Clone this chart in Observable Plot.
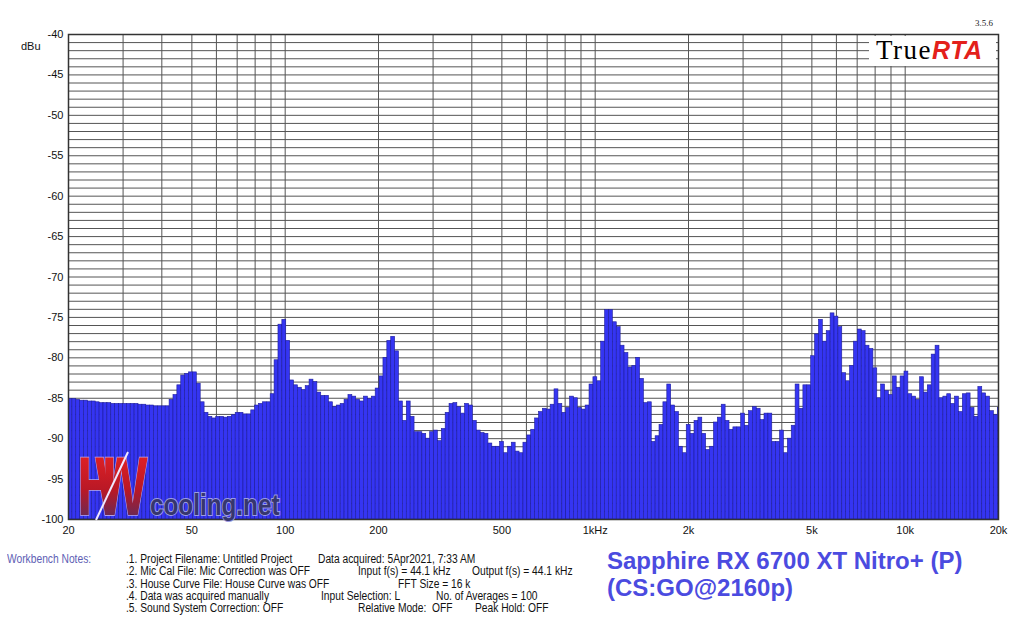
<!DOCTYPE html>
<html><head><meta charset="utf-8">
<script src="https://cdn.jsdelivr.net/npm/d3@7"></script>
<script src="https://cdn.jsdelivr.net/npm/@observablehq/plot@0.6"></script>
<style>
body{margin:0;background:#fff;}
#wrap{position:relative;width:1024px;height:624px;overflow:hidden;font-family:"Liberation Sans",Arial,sans-serif;background:#fff;}
#chart{position:absolute;left:0;top:0;}
.abs{position:absolute;white-space:nowrap;}
.note{position:absolute;white-space:nowrap;font-family:"Liberation Sans",Arial,sans-serif;font-size:12.5px;color:#111;transform:scaleX(0.82);transform-origin:left center;line-height:13px;}
.title{position:absolute;white-space:nowrap;font-family:"Liberation Sans",Arial,sans-serif;font-weight:bold;font-size:24px;color:#4b4be0;line-height:27px;}
</style></head><body>
<div id="wrap">
<div id="chart"></div>
</div>
<script>
// 1/24-octave analyser bands starting at 20 Hz
const bandsPerOctave = 24;
const startFreq = 20;
// level of each band (dBu), band 0 .. 239
const levels = [
-85.1,-85.1,-85.2,-85.3,-85.3,-85.4,-85.4,-85.5,-85.6,-85.6,
-85.6,-85.7,-85.7,-85.7,-85.7,-85.7,-85.7,-85.7,-85.8,-85.8,
-85.9,-85.9,-86.0,-86.0,-86.0,-86.0,-85.2,-84.6,-83.4,-82.2,
-82.0,-81.8,-81.8,-83.2,-85.5,-86.8,-87.3,-87.5,-87.3,-87.3,
-87.4,-87.3,-87.1,-86.8,-86.8,-87.0,-87.0,-86.5,-85.9,-85.7,
-85.5,-85.5,-84.5,-80.3,-75.9,-75.3,-77.9,-82.8,-83.4,-83.7,
-84.0,-83.5,-82.7,-83.0,-84.3,-84.7,-84.7,-85.5,-86.1,-85.9,
-85.7,-85.2,-84.6,-84.8,-85.2,-85.4,-84.8,-85.1,-84.8,-83.8,
-82.3,-80.0,-77.9,-77.4,-79.2,-85.4,-87.8,-85.4,-87.3,-89.2,
-89.2,-89.4,-90.0,-89.2,-89.0,-90.3,-88.8,-86.8,-85.7,-85.6,
-86.1,-86.9,-85.7,-85.9,-87.8,-89.0,-89.3,-89.4,-90.6,-91.0,
-91.0,-90.4,-91.8,-91.0,-90.5,-91.6,-91.8,-90.5,-89.6,-88.9,
-87.5,-86.7,-86.3,-86.4,-85.8,-83.9,-85.7,-86.8,-86.2,-84.8,
-85.0,-86.2,-86.4,-85.9,-83.3,-82.4,-82.9,-78.0,-74.1,-74.1,
-75.6,-76.2,-78.5,-79.4,-81.2,-81.0,-80.0,-82.6,-85.6,-85.5,
-90.4,-89.7,-88.3,-85.5,-83.3,-85.9,-86.7,-91.0,-91.8,-88.3,
-89.4,-87.8,-87.4,-89.4,-91.4,-91.0,-88.0,-87.4,-85.8,-87.8,
-88.9,-88.6,-88.6,-86.9,-88.4,-86.6,-86.1,-86.3,-87.7,-86.9,
-86.9,-90.4,-90.4,-89.0,-91.8,-90.0,-88.4,-83.3,-86.3,-83.4,
-83.4,-79.8,-77.1,-75.3,-78.0,-76.7,-74.5,-74.9,-76.2,-81.9,
-82.9,-81.0,-78.0,-76.5,-76.7,-78.5,-78.9,-81.3,-85.0,-83.3,
-84.1,-84.6,-82.3,-83.7,-82.3,-81.7,-84.5,-84.8,-85.2,-82.4,
-84.3,-83.4,-79.6,-78.5,-85.0,-84.8,-84.5,-85.7,-84.8,-86.7,
-84.5,-84.4,-86.2,-87.3,-83.6,-84.4,-84.8,-86.6,-87.1,-86.2
];
const xTickValues = [20,50,100,200,500,1000,2000,5000,10000,20000];
const xTickLabels = ["20","50","100","200","500","1kHz","2k","5k","10k","20k"];
const xGridLines = [20,30,40,50,60,70,80,90,100,200,300,400,500,600,700,800,900,
  1000,2000,3000,4000,5000,6000,7000,8000,9000,10000,20000];
const yTickValues = [-40,-45,-50,-55,-60,-65,-70,-75,-80,-85,-90,-95,-100];
const yGridLines = d3.range(-99,-40,1);

const bands = levels.map((v,i)=>({
  f1: startFreq*Math.pow(2, i/bandsPerOctave),
  f2: startFreq*Math.pow(2, (i+1)/bandsPerOctave),
  v
}));
const xTicks = xTickValues.map((f,i)=>({f, label:xTickLabels[i]}));

const chart = Plot.plot({
  width:1024, height:545,
  marginLeft:68, marginRight:26, marginTop:34, marginBottom:26,
  x:{type:"log", domain:[20,20000], axis:null},
  y:{domain:[-100,-40], axis:null},
  style:{fontFamily:"'Liberation Sans', Arial, sans-serif", fontSize:"11px", color:"#111", background:"transparent", overflow:"visible"},
  marks:[
    Plot.ruleY(yGridLines,{stroke:"#555", strokeWidth:1}),
    Plot.ruleX(xGridLines,{stroke:"#555", strokeWidth:1}),
    Plot.rect(bands,{x1:"f1", x2:"f2", y1:()=>-100, y2:"v", fill:"#3535f2", stroke:"#1d1d9c", strokeWidth:0.6, clip:true}),
    Plot.frame({stroke:"#333", strokeWidth:1.5}),
    Plot.text(xTicks,{x:"f", text:"label", frameAnchor:"bottom", dy:14, fontSize:11, fill:"#111"}),
    Plot.axisY({ticks:yTickValues, tickFormat:d=>String(d), tickSize:0, tickPadding:5, fontSize:11, label:null})
  ]
});
document.getElementById("chart").appendChild(chart);

const wrap = document.getElementById("wrap");
function add(html){ wrap.insertAdjacentHTML("beforeend", html); }

// axis unit
add('<div class="abs" style="left:21px;top:40px;font-size:11px;color:#111;">dBu</div>');
// TrueRTA logo
add('<div class="abs" style="left:869px;top:36px;width:127px;height:30px;background:#fff;"></div>');
add('<div class="abs" style="left:876px;top:33px;font-family:\'Liberation Serif\',serif;font-size:27px;letter-spacing:1.5px;color:#000;line-height:34px;">True<span style="font-family:\'Liberation Sans\',Arial,sans-serif;font-weight:bold;font-style:italic;color:#e3201b;font-size:25px;letter-spacing:0.5px;">RTA</span></div>');
add('<div class="abs" style="left:975px;top:18px;font-family:\'Liberation Serif\',serif;font-size:9px;color:#222;">3.5.6</div>');

// watermark
add(`<svg class="abs" style="left:70px;top:440px;overflow:visible" width="220" height="85">
<defs>
<linearGradient id="gHW" x1="0" y1="0" x2="0" y2="1"><stop offset="0" stop-color="#f02424"/><stop offset="0.55" stop-color="#b81826"/><stop offset="1" stop-color="#3a3470"/></linearGradient>
</defs>
<g transform="translate(7,75) scale(0.66,1)">
<text font-family="Liberation Sans, Arial, sans-serif" font-weight="bold" font-size="84" letter-spacing="-33" fill="url(#gHW)" stroke="#b8a8e8" stroke-width="1.5" paint-order="stroke">HW</text>
</g>
<line x1="26" y1="80" x2="58" y2="12" stroke="#f0e8ff" stroke-width="2"/>
<g transform="translate(80,75) scale(0.81,1)">
<text font-family="Liberation Sans, Arial, sans-serif" font-weight="bold" font-size="30" fill="#36366e" stroke="#9c9ce4" stroke-width="2" paint-order="stroke">cooling.net</text>
</g>
</svg>`);

// title
add('<div class="title" style="left:607px;top:547px;">Sapphire RX 6700 XT Nitro+ (P)</div>');
add('<div class="title" style="left:607px;top:574px;">(CS:GO@2160p)</div>');

// workbench notes
const notes = [
  [7,560,"Workbench Notes:","#5e5eb4"],
  [126,560,".1. Project Filename: Untitled Project"],
  [318,560,"Data acquired: 5Apr2021, 7:33 AM"],
  [126,572,".2. Mic Cal File: Mic Correction was OFF"],
  [358,572,"Input f(s) = 44.1 kHz"],
  [472,572,"Output f(s) = 44.1 kHz"],
  [126,585,".3. House Curve File: House Curve was OFF"],
  [398,585,"FFT Size = 16 k"],
  [126,597,".4. Data was acquired manually"],
  [321,597,"Input Selection: L"],
  [436,597,"No. of Averages = 100"],
  [126,609,".5. Sound System Correction: OFF"],
  [358,609,"Relative Mode:  OFF"],
  [475,609,"Peak Hold: OFF"]
];
notes.forEach(([x,y,t,c])=>{
  add(`<div class="note" style="left:${x}px;top:${y-7}px;${c?'color:'+c+';':''}">${t.replace(/  /g,' &nbsp;')}</div>`);
});
</script>
</body></html>
